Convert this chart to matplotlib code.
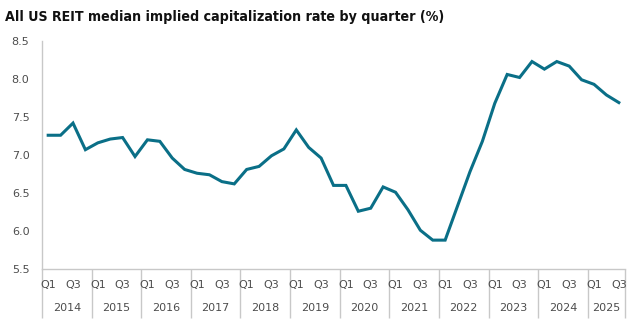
import numpy as np
import matplotlib
matplotlib.use("Agg")
import matplotlib.pyplot as plt
import matplotlib.transforms as mtransforms

# median implied cap rate, one value per quarter, 2014 Q1 .. 2025 Q3
years = [2014, 2015, 2016, 2017, 2018, 2019, 2020, 2021, 2022, 2023, 2024, 2025]
cap_rate = [
    7.26, 7.26, 7.42, 7.07,
    7.16, 7.21, 7.23, 6.98,
    7.20, 7.18, 6.96, 6.81,
    6.76, 6.74, 6.65, 6.62,
    6.81, 6.85, 6.99, 7.08,
    7.33, 7.10, 6.96, 6.60,
    6.60, 6.26, 6.30, 6.58,
    6.51, 6.28, 6.01, 5.88,
    5.88, 6.33, 6.78, 7.18,
    7.68, 8.06, 8.02, 8.23,
    8.13, 8.23, 8.17, 7.99,
    7.93, 7.79, 7.69,
]
quarter_labels = ["Q1", "", "Q3", ""]
y_ticks = [5.5, 6.0, 6.5, 7.0, 7.5, 8.0, 8.5]

n = len(cap_rate)
x = np.arange(n)
grid_col = "#c8c8c8"
text_col = "#4d4d4d"

fig = plt.figure(figsize=(6.4, 3.25), dpi=100)
ax = fig.add_axes([0.0656, 0.1723, 0.9110, 0.7015])

ax.plot(x, cap_rate, color="#0a6f87", lw=2.2, solid_joinstyle="miter")

ax.set_xlim(-0.5, n - 0.5)
ax.set_ylim(5.5, 8.5)
ax.set_yticks(y_ticks)
ax.set_yticklabels([f"{v:.1f}" for v in y_ticks])
ax.tick_params(axis="y", length=0, pad=9, labelsize=8, labelcolor=text_col)

# year separators drawn as long x ticks
bounds = list(np.arange(-0.5, n, 4)) + [n - 0.5]
ax.set_xticks(bounds)
ax.set_xticklabels([])
ax.tick_params(axis="x", length=35, width=1, color=grid_col)

for s in ["top", "right"]:
    ax.spines[s].set_visible(False)
for s in ["left", "bottom"]:
    ax.spines[s].set_color(grid_col)
    ax.spines[s].set_linewidth(1)

trans = mtransforms.blended_transform_factory(ax.transData, ax.transAxes)
for i in range(n):
    lab = quarter_labels[i % 4]
    if lab:
        ax.text(i, -0.07, lab, transform=trans, ha="center", va="center",
                fontsize=8, color=text_col)
for k, yr in enumerate(years):
    start = 4 * k
    end = min(start + 3, n - 1)
    ax.text((start + end) / 2, -0.17, str(yr), transform=trans,
            ha="center", va="center", fontsize=8, color=text_col)

fig.text(0.008, 0.948, "All US REIT median implied capitalization rate by quarter (%)",
         ha="left", va="center", fontsize=10.2, color="#111111",
         family="DejaVu Sans", stretch="condensed", weight="bold")

fig.savefig("out.png", dpi=100)
